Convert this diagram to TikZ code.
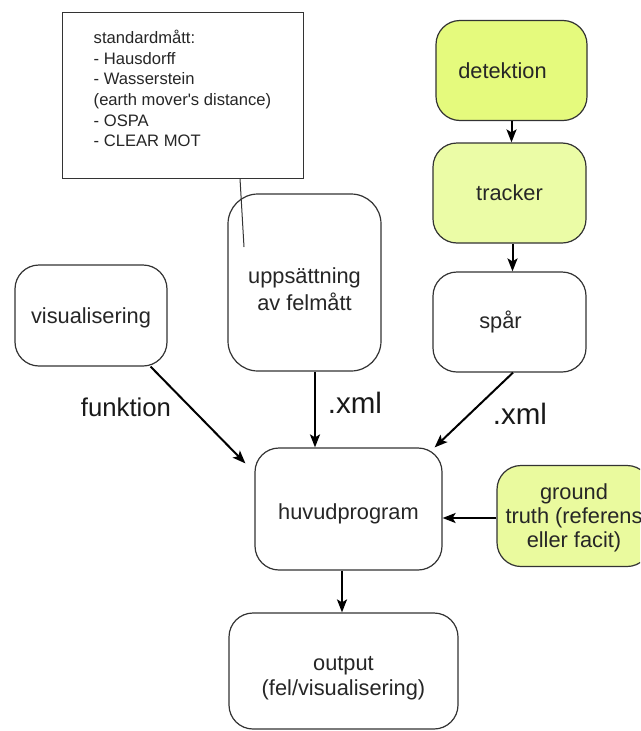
\documentclass[tikz,border=0pt]{standalone}
\usepackage{fontspec}
\setmainfont{Liberation Sans}
\usetikzlibrary{arrows.meta,calc}
\definecolor{bordc}{HTML}{333333}
\definecolor{limeA}{RGB}{229,250,125}
\definecolor{limeB}{RGB}{235,252,166}
\definecolor{limeC}{RGB}{234,250,158}
\newcommand{\dropby}[2]{\raisebox{-#1}[\height][\depth]{#2}}
\begin{document}
\begin{tikzpicture}[x=1pt,y=-1pt,
  box/.style={draw=bordc,line width=1.2pt,rounded corners=24pt,align=center,
    inner sep=0pt,font=\fontsize{21.8}{27.5}\selectfont,text=black!85},
  note/.style={draw=bordc,line width=1pt,align=left,inner sep=0pt,
    font=\fontsize{16.6}{20.6}\selectfont,text=black!85},
  arr/.style={line width=2pt,-{Stealth[length=13pt,width=10pt,inset=3pt]}},
  lbl/.style={inner sep=0pt,text=black!90}]
\useasboundingbox (0,0) rectangle (640,731);
\clip (0,0) rectangle (640,731);
\fill[white] (0,0) rectangle (640,731);

\node[note,minimum width=241pt,minimum height=166pt] (callout) at (182.5,95)
  {\dropby{-4pt}{\begin{tabular}{@{}l@{}}standardmått:\\- Hausdorff\\- Wasserstein\\(earth mover\textquotesingle s distance)\\- OSPA\\- CLEAR MOT\end{tabular}}};

\node[box,fill=limeA,minimum width=151pt,minimum height=100pt] (det) at (511.5,70.5) {\hspace*{-18pt}detektion};
\node[box,fill=limeB,minimum width=153pt,minimum height=100pt] (tracker) at (509.5,193) {tracker};
\node[box,fill=white,minimum width=153pt,minimum height=100pt] (spar) at (509.5,322) {\hspace*{-18pt}spår};
\node[box,fill=white,minimum width=152pt,minimum height=101pt] (vis) at (91,315.5) {\dropby{2pt}{visualisering}};
\node[box,fill=white,rounded corners=30pt,minimum width=153pt,minimum height=177pt] (upps) at (304.5,282.5) {\dropby{7pt}{\shortstack{uppsättning\\[2pt]av felmått}}};
\node[box,fill=white,minimum width=187pt,minimum height=122pt] (huvud) at (348.5,509) {\dropby{5pt}{huvudprogram}};
\node[box,fill=limeC,minimum width=154pt,minimum height=101pt] (ground) at (574,516) {\dropby{2pt}{\shortstack{ground\\[1pt]truth (referens\\[1pt]eller facit)}}};
\node[box,fill=white,minimum width=229pt,minimum height=116pt] (output) at (343.5,671) {\dropby{7pt}{\shortstack{output\\[2pt](fel/visualisering)}}};

\coordinate (cend) at (244,247);
\draw[bordc,line width=1pt] ([xshift=57.5pt]callout.south) -- (cend);

\draw[arr] (det.south) -- (det.south |- tracker.north);
\draw[arr] ([xshift=3pt]tracker.south) coordinate (t1) -- (t1 |- spar.north);
\draw[arr] ([xshift=-17pt]vis.south east) -- ([xshift=-9pt,yshift=-16pt]huvud.north west);
\draw[arr] ([xshift=10.5pt]upps.south) coordinate (u1) -- (u1 |- huvud.north);
\draw[arr] ([xshift=3.5pt]spar.south) -- ([xshift=-8pt]huvud.north east);
\draw[arr] ([yshift=-2pt]ground.west) coordinate (g1) -- (g1 -| huvud.east);
\draw[arr] ([xshift=-6.5pt]huvud.south) coordinate (h1) -- (h1 |- output.north);

\node[lbl,font=\fontsize{25.7}{30}\selectfont] (lf) at (126,407) {funktion};
\node[lbl,font=\fontsize{29.5}{34}\selectfont] (lx1) at (355,403) {.xml};
\node[lbl,font=\fontsize{29.5}{34}\selectfont] (lx2) at (520,414) {.xml};
\end{tikzpicture}
\end{document}
